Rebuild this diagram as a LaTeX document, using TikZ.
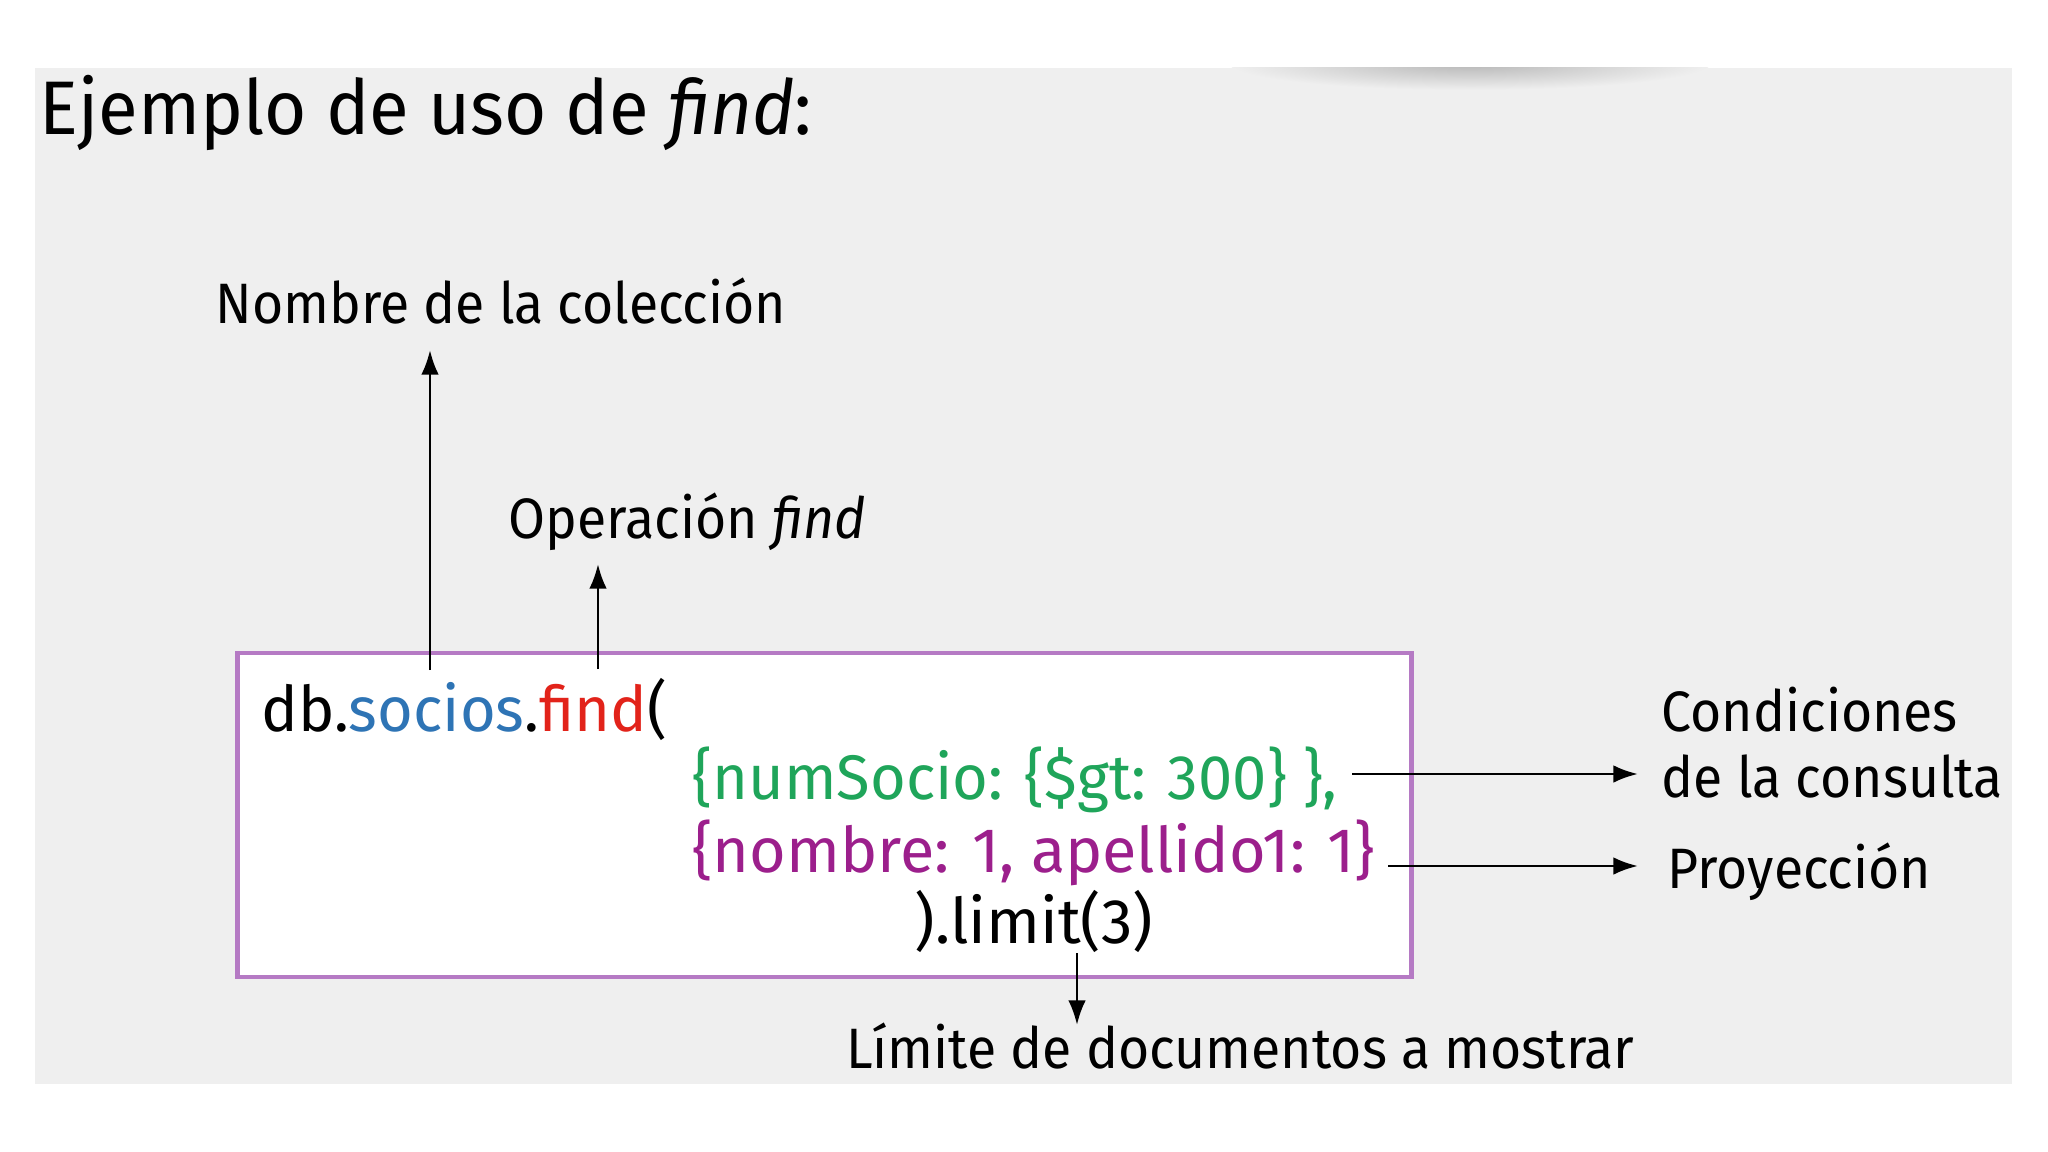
\documentclass[tikz,border=0pt]{standalone}
\usepackage{fontspec}
\setmainfont{Fira Sans}
\newfontfamily\headfont{Fira Sans}[FakeStretch=0.955]
\newfontfamily\lblfont{Fira Sans}[FakeStretch=0.94]
\newfontfamily\codefam{Fira Sans}[FakeStretch=0.975]
\newfontfamily\codewide{Fira Sans}
\usetikzlibrary{arrows.meta}
\definecolor{panel}{HTML}{EFEFEF}
\definecolor{boxline}{HTML}{B57AC4}
\definecolor{kwblue}{HTML}{2E74B5}
\definecolor{kwred}{HTML}{E2231A}
\definecolor{kwgreen}{HTML}{1FA55A}
\definecolor{kwpurple}{HTML}{9C1F8C}
\begin{document}
\begin{tikzpicture}[x=0.01cm,y=-0.01cm,
  txt/.style={anchor=base west, inner sep=0pt, text=black},
  titlefont/.style={font=\headfont\fontsize{21.6}{26}\selectfont},
  labelfont/.style={font=\lblfont\fontsize{16.2}{20}\selectfont},
  codefont/.style={font=\codefam\fontsize{17.9}{22}\selectfont},
  codefontwide/.style={font=\codewide\fontsize{17.9}{22}\selectfont},
  arr/.style={-{Latex[length=7pt,width=5pt]}, line width=0.8pt, black},
  codebox/.style={draw=boxline, line width=1.3pt, fill=white, inner sep=0pt,
    minimum width=11.73cm, minimum height=3.24cm}
]
\useasboundingbox (0,0) rectangle (2048,1152);
\fill[white] (0,0) rectangle (2048,1152);
\fill[panel] (35,68) rectangle (2012,1084);
% soft shadow under the top edge
\begin{scope}
  \clip (35,68) rectangle (2012,140);
  \shade[inner color=black!28, outer color=panel] (1470,64) ellipse (240 and 26);
\end{scope}

% heading
\node[txt, titlefont] (title) at (39,135) {Ejemplo de uso de \textit{find}:};

% code box
\node[codebox] (box) at (824.5,815) {};
\node[txt, codefont] (l1) at (261,731) {db.\textcolor{kwblue}{socios}.\textcolor{kwred}{find}(};
\node[txt, codefont, text=kwgreen] (l2) at (692,799) {\{numSocio: \{\$gt: 300\} \},};
\node[txt, codefontwide, text=kwpurple] (l3) at (692,872) {\{nombre: 1, apellido1: 1\}};
\node[txt, codefontwide] (l4) at (914,943) {).limit(3)};

% labels
\node[txt, labelfont] (coll) at (215,324) {Nombre de la colección};
\node[txt, labelfont] (oper) at (508,539) {Operación \textit{find}};
\node[txt, labelfont] (cond1) at (1661,731) {Condiciones};
\node[txt, labelfont] (cond2) at (1661,797) {de la consulta};
\node[txt, labelfont] (proy) at (1667,888) {Proyección};
\node[txt, labelfont] (lim) at (846,1068) {Límite de documentos a mostrar};

% connector ends
\coordinate (s1) at (430,670);
\coordinate (e1) at (430,350);
\coordinate (s2) at (598,669);
\coordinate (e2) at (598,564);
\coordinate (s3) at (1352,774);
\coordinate (e3) at (1638,774);
\coordinate (s4) at (1388,866);
\coordinate (e4) at (1638,866);
\coordinate (s5) at (1077,953);
\coordinate (e5) at (1077,1025);

\draw[arr] (s1) -- (e1);
\draw[arr] (s2) -- (e2);
\draw[arr] (s3) -- (e3);
\draw[arr] (s4) -- (e4);
\draw[arr] (s5) -- (e5);
\end{tikzpicture}
\end{document}
